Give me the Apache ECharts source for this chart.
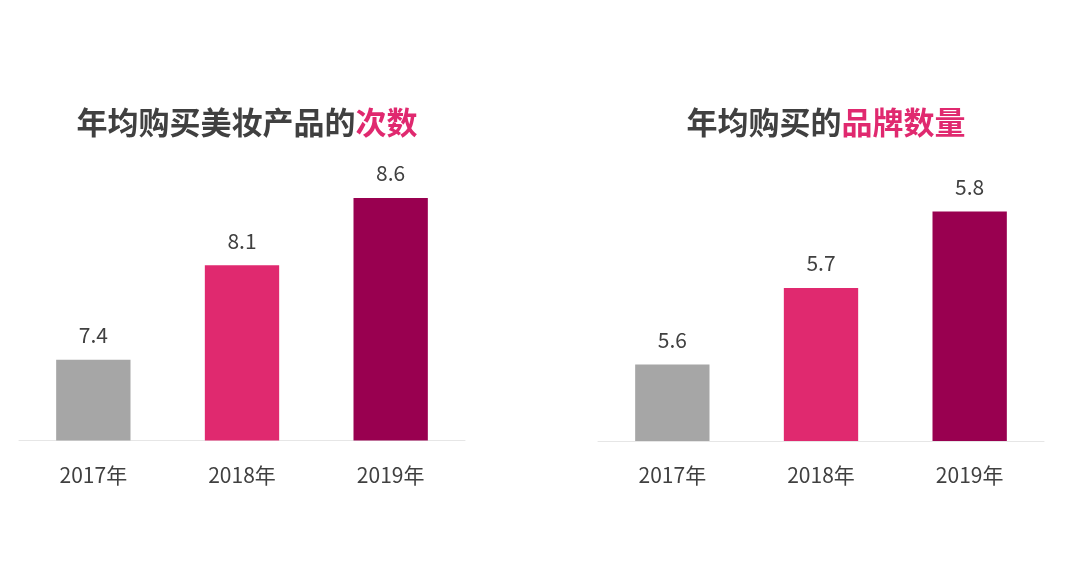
<!DOCTYPE html>
<html>
<head>
<meta charset="utf-8" />
<title>年均购买美妆产品</title>
<script src="https://cdn.jsdelivr.net/npm/echarts@6/dist/echarts.min.js"></script>
<style>
html, body { margin: 0; padding: 0; background: #fff; }
#main { width: 1080px; height: 561px; }
</style>
</head>
<body>
<div id="main"></div>
<script>
var years = ['2017年', '2018年', '2019年'];
var timesData = [7.4, 8.1, 8.6];
var brandData = [5.6, 5.7, 5.8];
var barColors = ['#a6a6a6', '#e0296f', '#990050'];

var font = '"Noto Sans CJK SC", "Microsoft YaHei", sans-serif';

function makeSeries(data, idx) {
    return {
        type: 'bar',
        xAxisIndex: idx,
        yAxisIndex: idx,
        barWidth: '50%',
        data: data.map(function (v, i) {
            return { value: v, itemStyle: { color: barColors[i] } };
        }),
        label: {
            show: true,
            position: 'top',
            distance: 14,
            color: '#404040',
            fontSize: 21,
            fontFamily: font
        }
    };
}

function makeX(idx) {
    return {
        type: 'category',
        gridIndex: idx,
        data: years,
        axisTick: { show: false },
        axisLine: { lineStyle: { color: '#e6e6e6', width: 1 } },
        axisLabel: { color: '#404040', fontSize: 21, fontFamily: font, margin: 24 }
    };
}

function makeY(idx, min, max) {
    return {
        type: 'value',
        gridIndex: idx,
        min: min,
        max: max,
        show: false,
        splitLine: { show: false }
    };
}

var titleRich = {
    a: { color: '#404040', fontSize: 31, fontWeight: 'bold', fontFamily: font },
    b: { color: '#e0296f', fontSize: 31, fontWeight: 'bold', fontFamily: font }
};

var option = {
    backgroundColor: '#fff',
    animation: false,
    title: [{
        text: '{a|年均购买美妆产品的}{b|次数}',
        left: 242,
        top: 102,
        textAlign: 'center',
        textStyle: { rich: titleRich }
    }, {
        text: '{a|年均购买的}{b|品牌数量}',
        left: 821,
        top: 102,
        textAlign: 'center',
        textStyle: { rich: titleRich }
    }],
    grid: [
        { left: 19, width: 446, top: 144, bottom: 120.5 },
        { left: 598, width: 446, top: 135, bottom: 120 }
    ],
    xAxis: [makeX(0), makeX(1)],
    yAxis: [makeY(0, 6.8, 9), makeY(1, 5.5, 5.9)],
    series: [makeSeries(timesData, 0), makeSeries(brandData, 1)]
};

var myChart = echarts.init(document.getElementById('main'));
myChart.setOption(option);
</script>
</body>
</html>
